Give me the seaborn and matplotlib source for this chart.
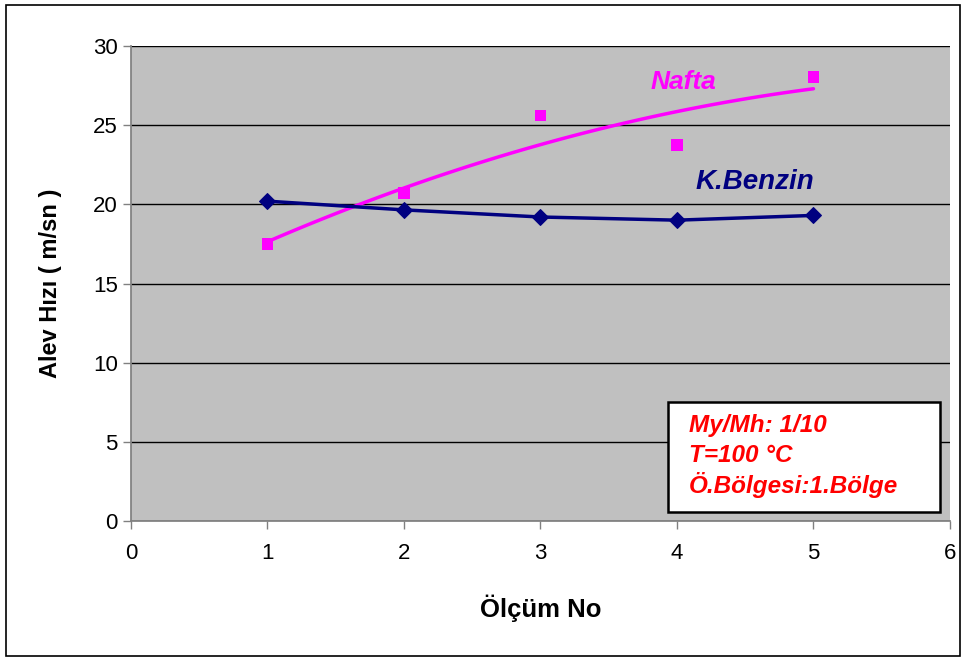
import matplotlib
matplotlib.use("Agg")
import matplotlib.pyplot as plt
import numpy as np
import pandas as pd
import seaborn as sns
from matplotlib.patches import Rectangle

olcum = [1, 2, 3, 4, 5]
nafta = [17.5, 20.7, 25.6, 23.75, 28.05]
benzin = [20.2, 19.65, 19.2, 19.0, 19.3]
note_lines = ["My/Mh: 1/10", "T=100 °C", "Ö.Bölgesi:1.Bölge"]

sns.set_theme(style="white")
plt.rcParams["font.family"] = ["Liberation Sans", "DejaVu Sans"]

df = pd.DataFrame({"x": olcum, "nafta": nafta, "benzin": benzin})

fig = plt.figure(figsize=(9.66, 6.61), dpi=100)
ax = fig.add_axes([0.1356, 0.2118, 0.8478, 0.7186])
ax.set_facecolor("#C0C0C0")

# trendline for Nafta (2nd order polynomial)
coef = np.polyfit(df["x"], df["nafta"], 2)
xs = np.linspace(1, 5, 100)
trend = pd.DataFrame({"x": xs, "y": np.polyval(coef, xs)})
sns.lineplot(data=trend, x="x", y="y", ax=ax, color="#FF00FF", linewidth=2.5)
sns.scatterplot(data=df, x="x", y="nafta", ax=ax, marker="s", s=70,
                color="#FF00FF", edgecolor="none", zorder=4)

sns.lineplot(data=df, x="x", y="benzin", ax=ax, color="#000080", linewidth=2.5,
             marker="D", markersize=8, markeredgecolor="#000080")

ax.set_xlim(0, 6)
ax.set_ylim(0, 30)
ax.set_xticks(range(0, 7))
ax.set_yticks(range(0, 31, 5))
ax.yaxis.grid(True, color="black", linewidth=1)
ax.set_axisbelow(True)
for s in ["top", "right"]:
    ax.spines[s].set_visible(False)
for s in ["left", "bottom"]:
    ax.spines[s].set_color("#808080")
ax.tick_params(axis="both", direction="out", length=6, width=1, color="#808080",
               labelsize=16, labelcolor="black", bottom=True, left=True)
ax.tick_params(axis="x", pad=10)
ax.set_xlabel("Ölçüm No", fontsize=18.5, fontweight="bold", labelpad=22, color="black")
ax.set_ylabel("Alev Hızı ( m/sn )", fontsize=17, fontweight="bold", labelpad=22, color="black")

ax.text(4.05, 27.7, "Nafta", color="#FF00FF", fontsize=19, fontweight="bold",
        fontstyle="italic", ha="center", va="center")
ax.text(4.57, 21.4, "K.Benzin", color="#000080", fontsize=20, fontweight="bold",
        fontstyle="italic", ha="center", va="center")

fig.patches.append(Rectangle((0.6915, 0.2254), 0.2816, 0.1664, transform=fig.transFigure,
                             facecolor="white", edgecolor="black", linewidth=1.8, zorder=5))
for i, line in enumerate(note_lines):
    fig.text(0.713, 0.357 - i * 0.0455, line, color="#FF0000", fontsize=17.5,
             fontweight="bold", fontstyle="italic", ha="left", va="center", zorder=6)

fig.patches.append(Rectangle((0.006, 0.008), 0.988, 0.984, transform=fig.transFigure,
                             fill=False, edgecolor="black", linewidth=1.2))

fig.savefig("out.png", dpi=100)
